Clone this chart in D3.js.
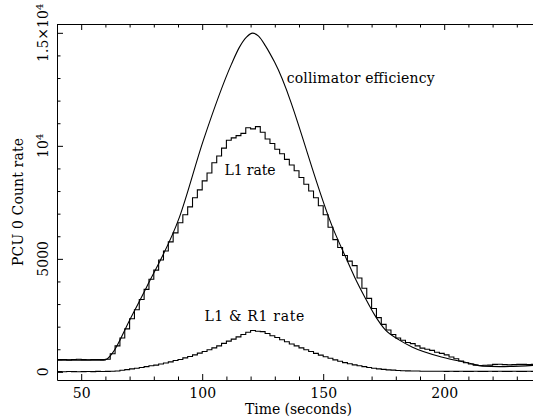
<!DOCTYPE html>
<html>
<head>
<meta charset="utf-8">
<script src="https://cdn.jsdelivr.net/npm/d3@7"></script>
<style>
  body { margin: 0; background: #fff; }
  svg { display: block; }
  text { font-family: "DejaVu Serif", serif; fill: #000; }
</style>
</head>
<body>
<svg id="chart" width="533" height="420"></svg>
<script>
// time bins (left edges, 2 s wide)
const binStart = 40;
const binWidth = 2;

// PCU 0 L1 count rate, one value per bin
const l1Rate = [
    540, 550, 530, 545, 555, 540, 535, 550, 545, 540,
    560, 800, 1150, 1500, 1900, 2350, 2750, 3200, 3650, 4100,
    4500, 4950, 5350, 5750, 6150, 6600, 6950, 7300, 7700, 8050,
    8450, 8800, 9250, 9550, 9900, 10250, 10350, 10450, 10550, 10800,
    10750, 10850, 10600, 10300, 10100, 9850, 9650, 9400, 9150, 8900,
    8600, 8300, 8000, 7700, 7350, 6950, 6400, 5850, 5500, 5150,
    4900, 4700, 4150, 3700, 3250, 2800, 2400, 2100, 1850, 1650,
    1500, 1400, 1300, 1250, 1150, 1050, 1000, 950, 870, 820,
    750, 660, 580, 480, 400, 350, 300, 280, 290, 300,
    330, 340, 320, 310, 320, 330, 330, 320, 330, 325
];

// L1 & R1 coincidence rate, one value per bin
const l1r1Rate = [
    10, 5, 15, 10, 5, 10, 15, 10, 20, 15,
    20, 30, 40, 70, 100, 130, 160, 190, 230, 270,
    300, 350, 390, 440, 500, 550, 620, 680, 750, 830,
    900, 980, 1060, 1150, 1260, 1360, 1450, 1550, 1650, 1750,
    1830, 1800, 1780, 1700, 1600, 1520, 1420, 1330, 1230, 1150,
    1060, 980, 900, 820, 740, 670, 600, 530, 470, 410,
    360, 310, 270, 230, 190, 160, 130, 110, 90, 75,
    60, 50, 45, 40, 35, 30, 30, 25, 30, 25,
    20, 25, 20, 25, 20, 20, 25, 20, 20, 25,
    20, 25, 20, 20, 25, 20, 20, 25, 20, 20
];

// collimator efficiency curve (scaled)
const collTime = [40, 59.2, 60.5, 62.9, 70.0, 77.0, 90.6, 100.5, 112.1, 115.4, 118.3, 120.8,
    123.3, 126.2, 129.9, 154.7, 158.9, 163.0, 167.2, 171.3, 175.4, 181.5, 186.9,
    199.3, 210.5, 215.8, 222.8, 240];
const collRate = [518, 518, 562, 827, 2288, 3748, 6845, 10252, 13615, 14367, 14810, 14987,
    14854, 14412, 13704, 6181, 5164, 4190, 3305, 2509, 1889, 1403, 1093,
    650, 385, 252, 230, 310];

const xMajor = [50, 100, 150, 200];
const yMajor = [0, 5000, 10000, 15000];
const yTickBase = ['0', '5000', '10', '1.5\u00d710'];
const yTickSup = ['', '', '4', '4'];

function drawChart() {
    const svg = d3.select('#chart');
    const left = 57, top = 24, bottom = 380;
    const plotW = 484; // right edge falls outside the picture

    const x = d3.scaleLinear().domain([40, 240]).range([left, left + plotW]);
    const y = d3.scaleLinear().domain([-360, 15390]).range([bottom, top]);

    svg.append('defs').append('clipPath').attr('id', 'clip')
        .append('rect')
        .attr('x', left).attr('y', top)
        .attr('width', plotW).attr('height', bottom - top);

    const plot = svg.append('g').attr('clip-path', 'url(#clip)');

    const stepLine = d3.line()
        .x(d => x(d[0]))
        .y(d => y(d[1]))
        .curve(d3.curveStepAfter);

    const toSteps = vals => {
        const pts = vals.map((v, i) => [binStart + i * binWidth, v]);
        pts.push([binStart + vals.length * binWidth, vals[vals.length - 1]]);
        return pts;
    };

    // Histograms
    [l1Rate, l1r1Rate].forEach(vals => {
        plot.append('path')
            .attr('d', stepLine(toSteps(vals)))
            .attr('fill', 'none')
            .attr('stroke', '#000')
            .attr('stroke-width', 1.1);
    });

    // Collimator curve
    const smooth = d3.line()
        .x((d, i) => x(collTime[i]))
        .y(d => y(d))
        .curve(d3.curveMonotoneX);

    plot.append('path')
        .attr('d', smooth(collRate))
        .attr('fill', 'none')
        .attr('stroke', '#000')
        .attr('stroke-width', 1.1);

    // Axes: major + minor, ticks inward
    const minorX = d3.range(40, 241, 10).filter(v => !xMajor.includes(v));
    const minorY = d3.range(0, 15001, 1000).filter(v => !yMajor.includes(v));

    const styleAxis = g => {
        g.selectAll('.domain').attr('stroke', '#000').attr('stroke-width', 1);
        g.selectAll('line').attr('stroke', '#000').attr('stroke-width', 1);
    };

    svg.append('g')
        .attr('transform', `translate(0,${bottom})`)
        .call(d3.axisBottom(x).tickValues(xMajor).tickSizeInner(-6).tickSizeOuter(0)
            .tickPadding(8).tickFormat(d3.format('d')))
        .call(styleAxis)
        .call(g => g.selectAll('text').style('font-size', '14px').style('font-family', '"DejaVu Serif", serif'));

    svg.append('g')
        .attr('transform', `translate(0,${bottom})`)
        .call(d3.axisBottom(x).tickValues(minorX).tickSize(-3.5).tickFormat(''))
        .call(styleAxis)
        .call(g => g.select('.domain').remove());

    svg.append('g')
        .attr('transform', `translate(0,${top})`)
        .call(d3.axisTop(x).tickValues(xMajor).tickSizeInner(-6).tickSizeOuter(0).tickFormat(''))
        .call(styleAxis);

    svg.append('g')
        .attr('transform', `translate(0,${top})`)
        .call(d3.axisTop(x).tickValues(minorX).tickSize(-3.5).tickFormat(''))
        .call(styleAxis)
        .call(g => g.select('.domain').remove());

    svg.append('g')
        .attr('transform', `translate(${left},0)`)
        .call(d3.axisLeft(y).tickValues(yMajor).tickSizeInner(-6).tickSizeOuter(0).tickFormat(''))
        .call(styleAxis);

    svg.append('g')
        .attr('transform', `translate(${left},0)`)
        .call(d3.axisLeft(y).tickValues(minorY).tickSize(-3.5).tickFormat(''))
        .call(styleAxis)
        .call(g => g.select('.domain').remove());

    // Y tick labels, rotated
    yMajor.forEach((v, i) => {
        const t = svg.append('text')
            .attr('transform', `translate(48,${y(v)}) rotate(-90)`)
            .attr('text-anchor', 'middle')
            .style('font-size', '14px');
        t.append('tspan').text(yTickBase[i]);
        if (yTickSup[i]) {
            t.append('tspan').attr('dy', '-0.5em').style('font-size', '10px').text(yTickSup[i]);
        }
    });

    // Axis titles
    svg.append('text')
        .attr('x', 298.5)
        .attr('y', 414)
        .attr('text-anchor', 'middle')
        .attr('textLength', 107)
        .style('font-size', '14px')
        .text('Time (seconds)');

    svg.append('text')
        .attr('transform', `translate(23,${(top + bottom) / 2}) rotate(-90)`)
        .attr('text-anchor', 'middle')
        .attr('textLength', 128)
        .style('font-size', '14px')
        .text('PCU 0 Count rate');

    // Curve labels
    const label = (tx, by, len, txt) => svg.append('text')
        .attr('x', x(tx)).attr('y', by)
        .attr('textLength', len)
        .attr('xml:space', 'preserve')
        .style('font-size', '14px')
        .text(txt);

    label(134.9, 83, 148, 'collimator efficiency');
    label(109.2, 175, 51, 'L1 rate');
    label(100.9, 321, 100, 'L1 & R1 rate');
}

drawChart();
</script>
</body>
</html>
